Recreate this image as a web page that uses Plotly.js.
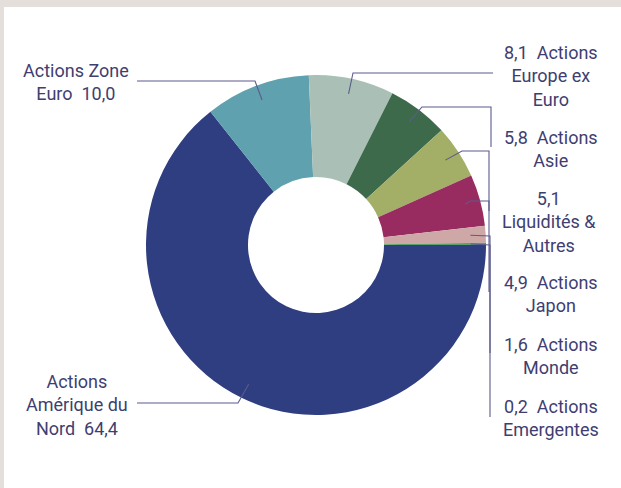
<!DOCTYPE html>
<html>
<head>
<meta charset="utf-8">
<script src="https://cdn.plot.ly/plotly-3.0.1.min.js"></script>
<style>
  html, body { margin: 0; padding: 0; background: #e4dfdb; }
  #panel { position: absolute; left: 4px; top: 7px; width: 617px; height: 481px; background: #ffffff; }
  #chart { position: absolute; left: 0; top: 0; width: 621px; height: 488px; }
</style>
</head>
<body>
<div id="panel"></div>
<div id="chart"></div>
<script>
// ---- data ----
const categories = [
  "Actions Amérique du Nord",
  "Actions Zone Euro",
  "Actions Europe ex Euro",
  "Actions Asie",
  "Liquidités & Autres",
  "Actions Japon",
  "Actions Monde",
  "Actions Emergentes"
];
const values = [64.4, 10.0, 8.1, 5.8, 5.1, 4.9, 1.6, 0.2];
const valueLabels = ["64,4", "10,0", "8,1", "5,8", "5,1", "4,9", "1,6", "0,2"];
const labelTexts = [
  "Actions<br>Amérique du<br>Nord\u00A0 64,4",
  "Actions Zone<br>Euro\u00A0 10,0",
  "8,1\u00A0 Actions<br>Europe ex<br>Euro",
  "5,8\u00A0 Actions<br>Asie",
  "5,1<br>Liquidités &<br>Autres",
  "4,9\u00A0 Actions<br>Japon",
  "1,6\u00A0 Actions<br>Monde",
  "0,2\u00A0 Actions<br>Emergentes"
];
const colors = ["#2f3e80", "#5fa1ae", "#aabfb6", "#3e6a4c", "#a3ae67", "#982b60", "#cea8a6", "#5a9f6c"];

// ---- layout constants (pixels) ----
const W = 621, H = 488;
const CX = 316, CY = 245, R = 170;
const HOLE = 0.4;
const ANCHOR_R = 0.91;
const textColor = "#403e71";
const lineColor = "#5c5b8d";

// label centre positions and leader elbows (pixels)
const labelPos = [
  [77, 405], [76, 82], [551, 76], [551, 149], [549, 222], [551, 294], [551, 356], [551, 418]
];
const elbows = [
  [[238, 403], [137, 403]],
  [[255, 81], [137, 81]],
  [[353, 73], [493, 73]],
  [[422, 107], [491, 107], [491, 147]],
  [[462, 151], [489, 151], [489, 211]],
  [[470, 201], [489, 201], [489, 292]],
  [[490, 236], [490, 353]],
  [[490, 245], [490, 417]]
];

const px = x => x / W;
const py = y => 1 - y / H;

// anchor points derived from data (slice mid-angles), clockwise from 3 o'clock
const total = values.reduce((a, b) => a + b, 0);
let cum = 0;
const anchors = values.map(v => {
  const mid = (cum + v / 2) / total;
  cum += v;
  const ang = (90 + mid * 360) * Math.PI / 180; // compass angle
  return [CX + ANCHOR_R * R * Math.sin(ang), CY - ANCHOR_R * R * Math.cos(ang)];
});

const shapes = anchors.map((a, i) => {
  const pts = [a].concat(elbows[i]);
  const d = pts.map((p, k) => (k === 0 ? "M" : "L") + px(p[0]).toFixed(5) + "," + py(p[1]).toFixed(5)).join(" ");
  return { type: "path", xref: "paper", yref: "paper", path: d, line: { color: lineColor, width: 1.1 } };
});

const annotations = labelTexts.map((t, i) => ({
  text: t, xref: "paper", yref: "paper",
  x: px(labelPos[i][0]), y: py(labelPos[i][1]),
  xanchor: "center", yanchor: "middle", align: "center", showarrow: false,
  font: { family: "Roboto, sans-serif", size: 18, color: textColor }
}));

const trace = {
  type: "pie",
  labels: categories,
  values: values,
  hole: HOLE,
  sort: false,
  direction: "clockwise",
  rotation: 90,
  textinfo: "none",
  hoverinfo: "label+value",
  marker: { colors: colors, line: { width: 0 } },
  domain: { x: [px(CX - R), px(CX + R)], y: [1 - (CY + R) / H, 1 - (CY - R) / H] },
  showlegend: false
};

Plotly.newPlot("chart", [trace], {
  width: W, height: H,
  margin: { l: 0, r: 0, t: 0, b: 0 },
  paper_bgcolor: "rgba(0,0,0,0)",
  plot_bgcolor: "rgba(0,0,0,0)",
  showlegend: false,
  shapes: shapes,
  annotations: annotations
}, { displayModeBar: false, staticPlot: true });
</script>
</body>
</html>
